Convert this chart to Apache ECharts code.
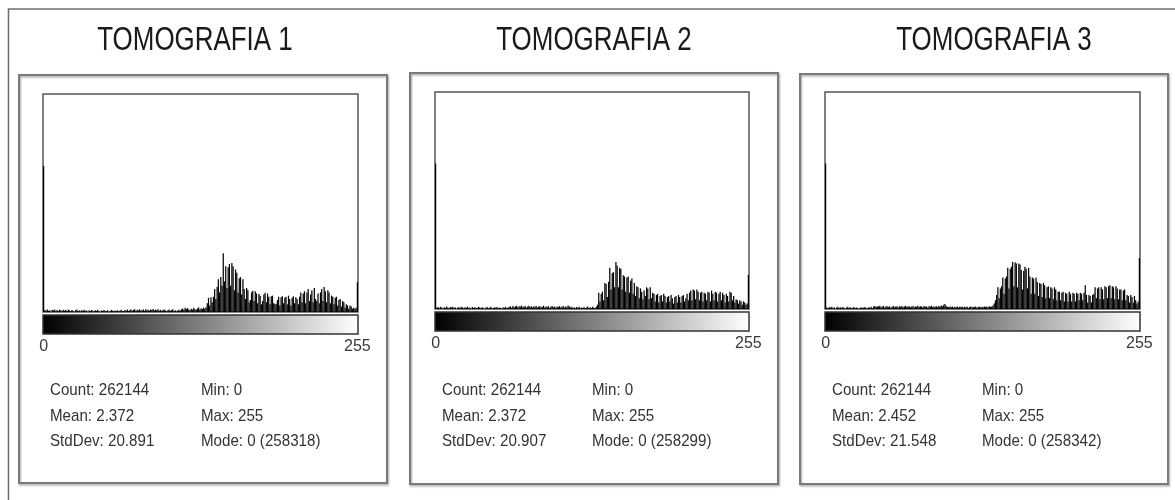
<!DOCTYPE html>
<html>
<head>
<meta charset="utf-8">
<script src="https://cdn.jsdelivr.net/npm/echarts@6/dist/echarts.min.js"></script>
<style>
html,body{margin:0;padding:0;background:#fff;}
#chart{width:1175px;height:500px;}
</style>
</head>
<body>
<div id="chart"></div>
<script>
// ---- data (relative bar heights, % of histogram plot height) ----
const titles = ["TOMOGRAFIA 1", "TOMOGRAFIA 2", "TOMOGRAFIA 3"];
const categories = Array.from({length: 256}, (_, i) => String(i));
const tickLabels = ["0", "255"];

const hist1 = [
67, 0.9, 0.6, 1.1, 0.5, 0.8, 0, 1.0, 0.7, 1.2,
0.5, 0.9, 0.4, 1.1, 0.8, 0.3, 1.0, 0.6, 0.9, 0.5,
1.2, 0.7, 0.4, 0.9, 0.6, 0, 0.8, 1.1, 0.5, 0.7,
0.3, 0.9, 0.6, 1.0, 0.4, 0.7, 0, 0.8, 0.5, 0.9,
0.6, 0.3, 0.8, 0.5, 1.0, 0.4, 0, 0.7, 0.5, 0.9,
0.6, 0.4, 0.8, 0, 0.5, 0.9, 0.6, 0.3, 0.7, 0.5,
0.8, 0.4, 0.6, 1.0, 0.5, 0.3, 0.9, 0.6, 1.1, 0.4,
0.8, 1.2, 0.6, 0.9, 1.3, 0.5, 1.0, 0.7, 1.2, 0.6,
0.9, 1.1, 0.5, 1.3, 0.8, 1.0, 0.6, 1.2, 0.9, 1.4,
0.7, 1.1, 0.8, 1.3, 0.6, 1.0, 0.5, 0.9, 1.2, 0.7,
0.4, 0.8, 1.1, 0.6, 0.9, 1.3, 0.5, 0.8, 0.3, 0.7,
1.0, 0.6, 1.2, 1.6, 0.9, 2.0, 1.4, 1.8, 1.1, 0.8,
1.5, 1.1, 1.9, 1.3, 1.0, 1.6, 2.1, 1.2, 1.7, 1.4,
2.0, 1.5, 2.2, 4.0, 6.5, 3.0, 6.8, 4.5, 7.0, 10.5,
6.0, 11.5, 15.0, 9.0, 16.0, 12.0, 27.0, 14.0, 21.0, 11.0,
20.5, 22.0, 12.0, 22.5, 21.0, 10.0, 19.5, 18.0, 9.0, 15.5,
16.0, 8.0, 15.0, 10.5, 6.0, 11.0, 10.0, 4.5, 5.5, 9.0,
9.8, 5.0, 9.5, 8.5, 4.0, 8.2, 7.5, 3.5, 5.0, 8.0,
8.8, 4.5, 8.5, 7.0, 3.5, 7.2, 7.5, 4.0, 3.8, 3.5,
5.5, 7.0, 3.0, 6.8, 7.2, 4.0, 6.5, 7.0, 3.5, 7.5,
6.0, 3.0, 6.5, 7.2, 4.0, 6.8, 6.0, 3.5, 7.0, 9.0,
4.5, 8.5, 9.5, 4.0, 9.0, 10.5, 5.0, 8.0, 10.0, 4.5,
11.0, 6.0, 5.0, 8.5, 4.0, 9.0, 10.5, 5.0, 11.5, 9.5,
4.5, 10.0, 9.0, 4.0, 7.5, 7.0, 3.5, 6.5, 7.0, 3.0,
5.5, 6.0, 2.5, 5.0, 4.5, 2.0, 3.5, 3.0, 1.5, 3.0,
2.5, 1.5, 2.0, 1.5, 2.0, 13.7
];

const hist2 = [
67, 0.6, 0.9, 0.4, 1.0, 0.7, 0, 0.8, 0.5, 1.1,
0.6, 0.3, 0.9, 0.7, 1.0, 0.4, 0.8, 0, 0.6, 0.9,
0.5, 1.0, 0.7, 0.3, 0.8, 0.6, 1.1, 0.4, 0.7, 0,
0.9, 0.5, 0.8, 0.6, 0.3, 1.0, 0.7, 0.4, 0.8, 0.5,
0, 0.7, 0.9, 0.4, 0.6, 1.0, 0.5, 0.3, 0.8, 0.6,
0.9, 0.4, 0.7, 0.5, 0, 0.8, 0.6, 1.0, 0.4, 0.7,
0.9, 1.2, 0.6, 1.4, 0.8, 1.1, 1.5, 0.7, 1.3, 1.0,
1.6, 0.8, 1.2, 1.4, 0.6, 1.1, 1.5, 0.9, 1.3, 0.7,
1.2, 1.0, 1.4, 0.6, 1.1, 1.3, 0.8, 1.0, 1.5, 0.7,
1.2, 0.9, 1.3, 0.5, 1.0, 1.4, 0.8, 1.1, 0.6, 1.2,
0.9, 1.3, 0.7, 1.0, 1.4, 0.6, 1.1, 0.8, 1.6, 1.2,
0.7, 1.0, 0.5, 0.8, 0.3, 0.9, 0.6, 1.0, 0.4, 0.7,
0.5, 0.9, 0.3, 0.6, 1.2, 0.4, 0.8, 0.5, 1.0, 0.6,
0.4, 1.0, 2.0, 7.5, 3.5, 7.0, 8.0, 4.0, 12.0, 11.5,
5.5, 12.5, 19.0, 9.0, 16.5, 17.0, 10.0, 21.7, 20.0, 10.0,
19.0, 18.5, 9.0, 15.5, 15.0, 8.0, 14.5, 15.0, 7.5, 13.0,
14.0, 7.0, 12.0, 6.0, 10.5, 10.0, 5.0, 9.5, 8.0, 4.5,
8.5, 6.0, 10.0, 9.5, 4.5, 10.0, 5.0, 7.5, 7.0, 3.5,
6.5, 7.0, 3.0, 6.0, 6.5, 3.5, 7.0, 6.0, 3.0, 5.5,
6.0, 3.5, 6.5, 5.0, 2.5, 5.5, 6.0, 3.0, 6.5, 5.5,
3.0, 6.0, 6.5, 3.5, 5.0, 7.0, 4.0, 7.5, 8.5, 4.0,
9.0, 8.5, 4.5, 9.0, 8.0, 4.0, 7.5, 8.0, 3.5, 7.5,
7.0, 4.0, 8.0, 7.5, 3.5, 8.5, 7.0, 4.0, 8.0, 7.5,
3.5, 7.0, 8.0, 4.0, 7.5, 6.5, 3.0, 7.0, 6.0, 3.5,
8.0, 7.5, 4.0, 6.0, 3.0, 4.5, 4.0, 2.5, 4.0, 3.5,
2.0, 3.5, 3.0, 2.0, 2.5, 15.7
];

const hist3 = [
67, 0.7, 0.4, 0.9, 0.6, 1.0, 0.3, 0.8, 0, 0.7,
1.0, 0.5, 0.8, 0.4, 0.9, 0.6, 0, 0.7, 1.0, 0.5,
0.8, 0.3, 0.6, 0.9, 0.4, 0.7, 0.5, 0, 0.6, 0.8,
0.4, 0.7, 0.9, 0.5, 0.3, 0.8, 0.6, 1.0, 0.4, 1.2,
1.4, 0.9, 1.3, 1.1, 1.5, 0.8, 1.2, 1.4, 0.7, 1.1,
1.3, 0.9, 1.2, 0.6, 1.0, 1.4, 0.8, 1.1, 1.3, 0.7,
1.2, 1.0, 1.4, 0.8, 1.1, 1.5, 0.9, 1.3, 1.2, 0.8,
1.1, 1.4, 0.7, 1.2, 1.0, 1.5, 0.9, 1.3, 1.1, 0.8,
1.4, 1.0, 1.2, 0.7, 1.3, 1.1, 1.5, 0.9, 1.2, 1.0,
1.3, 0.8, 1.4, 1.1, 1.6, 1.2, 2.0, 2.3, 1.4, 1.0,
0.8, 1.2, 0.9, 1.1, 0.6, 1.0, 0.8, 1.2, 0.7, 1.0,
0.9, 1.1, 0.6, 1.0, 0.8, 1.2, 0.5, 0.9, 1.1, 0.7,
1.0, 0.8, 1.2, 0.6, 0.9, 1.1, 0.7, 1.0, 0.8, 1.2,
0.9, 1.1, 0.7, 1.3, 1.0, 1.2, 1.6, 2.5, 4.0, 6.5,
10.0, 5.0, 9.5, 10.5, 14.5, 7.0, 14.0, 15.0, 19.0, 9.5,
18.5, 19.5, 21.7, 10.5, 21.5, 21.0, 10.0, 21.0, 20.5, 18.0,
9.0, 17.5, 19.5, 18.5, 9.5, 19.0, 15.0, 7.0, 14.5, 14.0,
7.0, 14.5, 12.5, 6.0, 12.0, 11.5, 5.5, 12.0, 11.0, 5.0,
10.0, 10.5, 5.0, 10.0, 9.5, 4.5, 10.0, 9.0, 4.0, 8.0,
8.0, 4.0, 7.5, 8.0, 3.5, 7.5, 7.0, 3.5, 8.0, 7.0,
3.5, 7.5, 7.0, 3.5, 7.5, 7.0, 4.0, 7.5, 7.0, 4.0,
7.5, 11.0, 6.5, 3.0, 6.5, 6.0, 3.0, 6.5, 7.0, 10.0,
5.0, 9.5, 10.0, 4.5, 10.0, 9.0, 4.5, 10.5, 10.0, 5.0,
10.5, 11.0, 5.0, 10.5, 10.0, 4.5, 10.5, 9.5, 4.5, 9.0,
9.0, 4.0, 8.5, 9.0, 4.0, 6.5, 6.0, 3.0, 6.5, 5.5,
3.0, 6.0, 4.0, 2.5, 3.5, 23.5
];

const statsLeft = [
  ["Count: 262144", "Mean: 2.372", "StdDev: 20.891"],
  ["Count: 262144", "Mean: 2.372", "StdDev: 20.907"],
  ["Count: 262144", "Mean: 2.452", "StdDev: 21.548"]
];
const statsRight = [
  ["Min: 0", "Max: 255", "Mode: 0 (258318)"],
  ["Min: 0", "Max: 255", "Mode: 0 (258299)"],
  ["Min: 0", "Max: 255", "Mode: 0 (258342)"]
];

// ---- layout ----
const histograms = [hist1, hist2, hist3];
const plots = [
  {left: 43, top: 94, width: 315, height: 218},
  {left: 435, top: 92, width: 314, height: 217},
  {left: 825, top: 92, width: 315, height: 217}
];
const boxes = [
  {x: 19, y: 75, w: 368, h: 408},
  {x: 410, y: 73, w: 368, h: 411},
  {x: 800, y: 74, w: 368, h: 410}
];
const titleX = [195, 594, 994];
const statCol1 = [50, 442, 832];
const statCol2 = [201, 592, 982];
const statRows = [390.5, 416, 441];

const chart = echarts.init(document.getElementById('chart'), null, {renderer: 'canvas'});

const grid = [], xAxis = [], yAxis = [], series = [];
const graphic = [];

graphic.push({
  type: 'rect', silent: true, z: 0,
  shape: {x: 8.5, y: 9, width: 1250, height: 600},
  style: {fill: null, stroke: '#6e6e6e', lineWidth: 1.5}
});

plots.forEach((p, i) => {
  grid.push({left: p.left, top: p.top, width: p.width, height: p.height,
    show: true, borderColor: '#555', borderWidth: 1.5, backgroundColor: '#fff', containLabel: false});
  xAxis.push({
    type: 'category', gridIndex: i, data: categories, boundaryGap: true,
    axisLine: {show: false}, axisTick: {show: false}, splitLine: {show: false},
    axisLabel: {
      show: true, margin: 27,
      interval: (idx) => idx === 0 || idx === 255,
      formatter: (v) => tickLabels.includes(v) ? v : '',
      fontFamily: "'Liberation Sans', Arial, sans-serif",
      fontSize: 16, color: '#3a3a3a'
    }
  });
  yAxis.push({type: 'value', gridIndex: i, min: 0, max: 100, show: false, splitLine: {show: false}});
  series.push({
    type: 'bar', xAxisIndex: i, yAxisIndex: i, data: histograms[i],
    barCategoryGap: '0%', itemStyle: {color: '#000'}, silent: true, animation: false
  });

  const b = boxes[i];
  graphic.push({
    type: 'rect', silent: true, z: 1,
    shape: {x: b.x, y: b.y, width: b.w, height: b.h},
    style: {fill: null, stroke: '#7a7a7a', lineWidth: 2,
      shadowBlur: 2, shadowOffsetX: 1, shadowOffsetY: 1.5, shadowColor: 'rgba(0,0,0,0.35)'}
  });
  // grey-level gradient strip under the histogram
  graphic.push({
    type: 'rect', silent: true, z: 5,
    shape: {x: p.left, y: p.top + p.height + 3, width: p.width, height: 19},
    style: {
      fill: new echarts.graphic.LinearGradient(0, 0, 1, 0, [
        {offset: 0, color: '#000'}, {offset: 1, color: '#fff'}
      ]),
      stroke: '#333', lineWidth: 1.5
    }
  });
  graphic.push({
    type: 'text', silent: true, z: 10,
    x: titleX[i], y: 41, scaleX: 0.786, scaleY: 1,
    style: {text: titles[i], font: "33px 'Liberation Sans', Arial, sans-serif",
      fill: '#1a1a1a', textAlign: 'center', textVerticalAlign: 'middle'}
  });
  for (let r = 0; r < 3; r++) {
    graphic.push({
      type: 'text', silent: true, z: 10,
      x: statCol1[i], y: statRows[r], scaleX: 0.89,
      style: {text: statsLeft[i][r], font: "17px 'Liberation Sans', Arial, sans-serif",
        fill: '#333', textAlign: 'left', textVerticalAlign: 'middle'}
    });
    graphic.push({
      type: 'text', silent: true, z: 10,
      x: statCol2[i], y: statRows[r], scaleX: 0.89,
      style: {text: statsRight[i][r], font: "17px 'Liberation Sans', Arial, sans-serif",
        fill: '#333', textAlign: 'left', textVerticalAlign: 'middle'}
    });
  }
});

chart.setOption({
  animation: false,
  backgroundColor: '#fff',
  grid, xAxis, yAxis, series, graphic
});
</script>
</body>
</html>
